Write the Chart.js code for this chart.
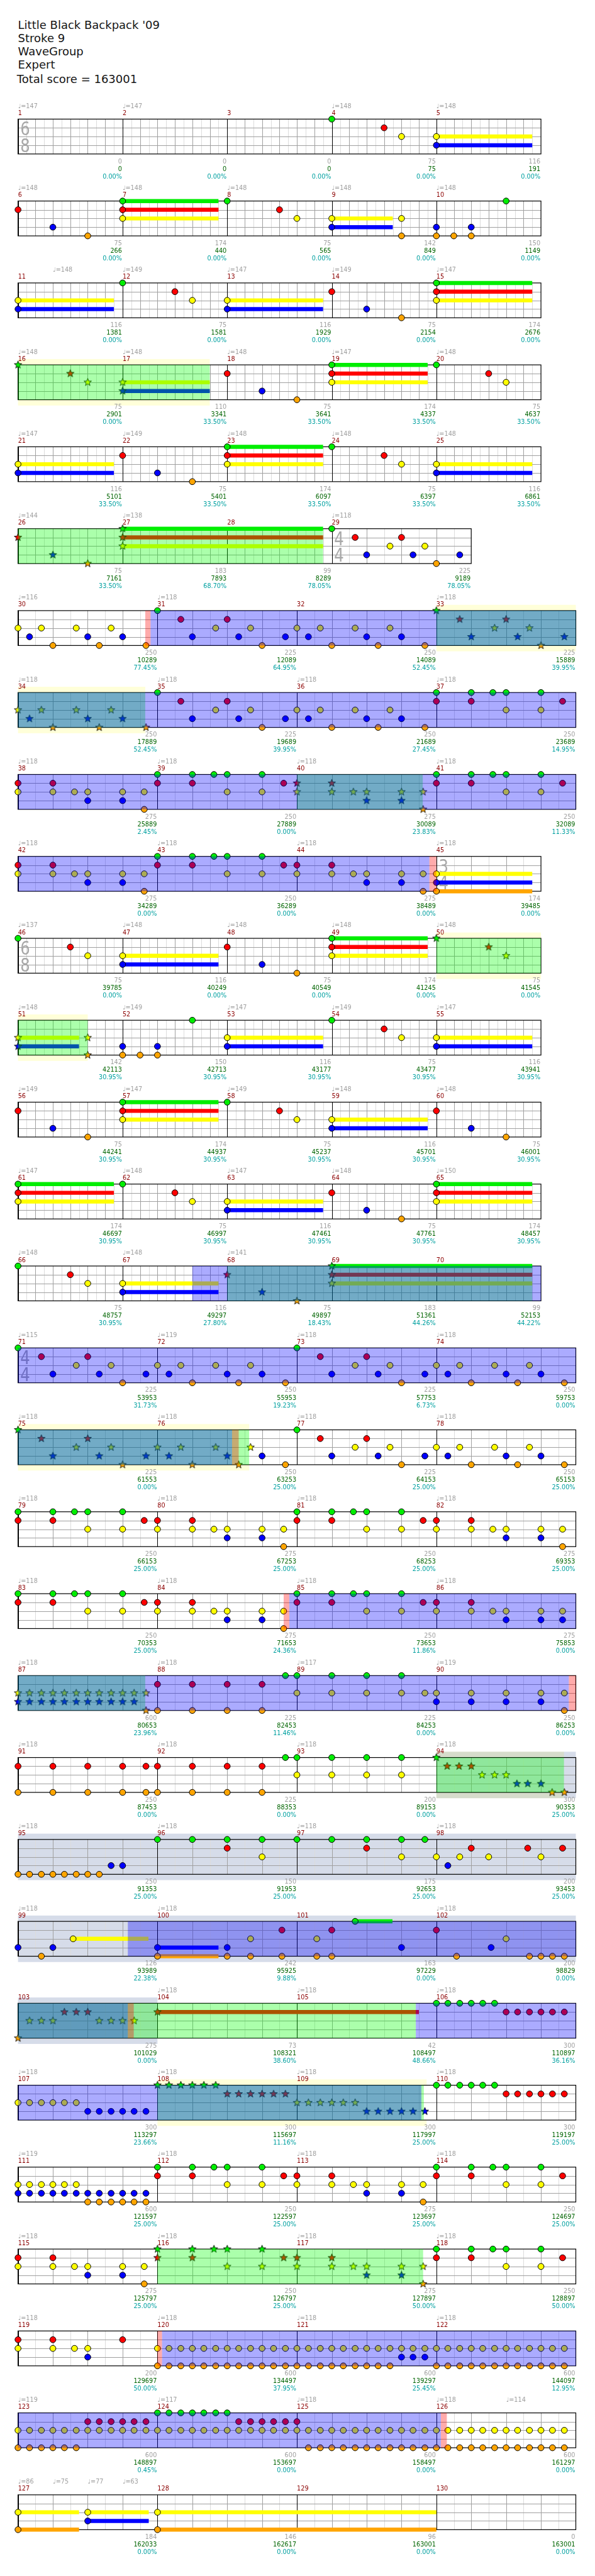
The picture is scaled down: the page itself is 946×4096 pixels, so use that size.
<!DOCTYPE html>
<html><head><meta charset="utf-8">
<script src="https://cdn.jsdelivr.net/npm/chart.js@4.4.1/dist/chart.umd.min.js"></script>
<style>
html,body{margin:0;padding:0;background:#fff;}
body{width:946px;height:4096px;position:relative;overflow:hidden;font-family:"DejaVu Sans",sans-serif;}
.tl{position:absolute;left:28.6px;font-size:18px;line-height:21px;color:#151515;white-space:nowrap;}
canvas{position:absolute;left:0;}
</style></head><body>
<div id="title"></div>
<script>
// ---------------- DATA ----------------
const titleLines = ["Little Black Backpack '09", "Stroke 9", "WaveGroup", "Expert", "Total score = 163001"];
const measureCount = 130;
// [first measure, numerator, denominator]
const timeSignatures = [[1,6,8],[29,4,4],[45,3,4],[46,6,8],[71,4,4]];
// [measure, beat offset, bpm]
const tempoMarks = [
[1,0,147],[2,0,147],[4,0,148],[5,0,148],
[6,0,148],[7,0,148],[8,0,148],[9,0,148],[10,0,148],
[11,1,148],[12,0,149],[13,0,147],[14,0,149],[15,0,147],
[16,0,148],[17,0,148],[18,0,148],[19,0,147],[20,0,148],
[21,0,147],[22,0,149],[23,0,148],[24,0,148],[25,0,148],
[26,0,144],[27,0,138],[29,0,118],
[30,0,116],[31,0,118],[33,0,118],
[34,0,118],[35,0,118],[36,0,118],[37,0,118],
[38,0,118],[39,0,118],[40,0,118],[41,0,118],
[42,0,118],[43,0,118],[44,0,118],[45,0,118],
[46,0,137],[47,0,148],[48,0,148],[49,0,148],[50,0,148],
[51,0,148],[52,0,149],[53,0,147],[54,0,149],[55,0,147],
[56,0,149],[57,0,147],[58,0,149],[59,0,148],[60,0,148],
[61,0,147],[62,0,148],[63,0,147],[64,0,148],[65,0,150],
[66,0,148],[67,0,148],[68,0,141],
[71,0,115],[72,0,119],[73,0,118],[74,0,118],
[75,0,118],[76,0,118],[77,0,118],[78,0,118],
[79,0,118],[80,0,118],[81,0,118],[82,0,118],
[83,0,118],[84,0,118],[85,0,118],[86,0,118],
[87,0,118],[88,0,118],[89,0,117],[90,0,119],
[91,0,118],[92,0,118],[93,0,118],[94,0,118],
[95,0,118],[96,0,118],[97,0,118],[98,0,118],
[99,0,118],[100,0,118],[102,0,118],
[104,0,118],[105,0,118],[106,0,118],
[107,0,118],[108,0,118],[109,0,118],[110,0,118],
[111,0,119],[112,0,118],[113,0,118],[114,0,118],
[115,0,118],[116,0,118],[117,0,118],[118,0,118],
[119,0,118],[120,0,118],[121,0,118],[122,0,118],
[123,0,119],[124,0,117],[125,0,118],[126,0,118],[126,2,114],
[127,0,86],[127,1,75],[127,2,77],[127,3,63]
];
// per-measure score gained (grey), running score (green), overdrive % (teal)
const measureGain = [
0,0,0,75,116, 75,174,75,142,150, 116,75,116,75,174, 75,110,75,174,75, 116,75,174,75,116,
75,183,99,225, 250,225,250,225, 250,225,250,250, 275,250,275,250, 275,250,275,174,
75,116,75,174,75, 142,150,116,75,116, 75,174,75,116,75, 174,75,116,75,174, 75,116,75,183,99,
225,250,225,250, 225,250,225,250, 250,275,250,275, 250,275,250,275, 600,225,225,250,
250,225,200,300, 250,150,175,200, 126,242,163,200, 275,73,42,300, 300,300,300,300,
600,250,275,250, 275,250,275,250, 200,600,600,600, 600,600,600,600, 184,146,96,0];
const runningScore = [
0,0,0,75,191, 266,440,565,849,1149, 1381,1581,1929,2154,2676, 2901,3341,3641,4337,4637,
5101,5401,6097,6397,6861, 7161,7893,8289,9189, 10289,12089,14089,15889, 17889,19689,21689,23689,
25889,27889,30089,32089, 34289,36289,38489,39485, 39785,40249,40549,41245,41545,
42113,42713,43177,43477,43941, 44241,44937,45237,45701,46001, 46697,46997,47461,47761,48457,
48757,49297,49897,51361,52153, 53953,55953,57753,59753, 61553,63253,64153,65153,
66153,67253,68253,69353, 70353,71653,73653,75853, 80653,82453,84253,86253,
87453,88353,89153,90353, 91353,91953,92653,93453, 93989,95925,97229,98829,
101029,108321,108497,110897, 113297,115697,117997,119197, 121597,122597,123697,124697,
125797,126797,127897,128897, 129697,134497,139297,144097, 148897,153697,158497,161297,
162033,162617,163001,163001];
const overdrivePct = [
0,0,0,0,0, 0,0,0,0,0, 0,0,0,0,0, 0,33.5,33.5,33.5,33.5, 33.5,33.5,33.5,33.5,33.5,
33.5,68.7,78.05,78.05, 77.45,64.95,52.45,39.95, 52.45,39.95,27.45,14.95, 2.45,0,23.83,11.33, 0,0,0,0,
0,0,0,0,0, 30.95,30.95,30.95,30.95,30.95, 30.95,30.95,30.95,30.95,30.95, 30.95,30.95,30.95,30.95,30.95,
30.95,27.8,18.43,44.26,44.22, 31.73,19.23,6.73,0, 0,25,25,25, 25,25,25,25, 25,24.36,11.86,0,
23.96,11.46,0,0, 0,0,0,25, 25,25,25,25, 22.38,9.88,0,0, 0,38.6,48.66,36.16, 23.66,11.16,25,25,
25,25,25,25, 25,25,50,50, 50,37.95,25.45,12.95, 0.45,0,0,0, 0,0,0,0];

// chords: [measure, beat, frets, sustain beats]
const chordsIntro = [
[4,0,"G"],[4,1.5,"R"],[4,2,"Y"],[5,0,"YB",2.75],
[6,0,"R"],[6,1,"B"],[6,2,"O"],[7,0,"GRY",2.75],[8,0,"G"],[8,1.5,"R"],[8,2,"Y"],[9,0,"YB",1.75],[9,2,"YO"],[10,0,"BO"],[10,0.5,"O"],[10,1,"BO"],[10,2,"G"],
[11,0,"YB",2.75],[12,0,"G"],[12,1.5,"R"],[12,2,"Y"],[13,0,"YB",2.75],[14,0,"R"],[14,1,"B"],[14,2,"O"],[15,0,"GRY",2.75],
[16,0,"G"],[16,1.5,"R"],[16,2,"Y"],[17,0,"YB",2.5],[18,0,"R"],[18,1,"B"],[18,2,"O"],[19,0,"GRY",2.75],[20,0,"G"],[20,1.5,"R"],[20,2,"Y"],
[21,0,"YB",2.75],[22,0,"R"],[22,1,"B"],[22,2,"O"],[23,0,"GRY",2.75],[24,0,"G"],[24,1.5,"R"],[24,2,"Y"],[25,0,"YB",2.75],
[26,0,"R"],[26,1,"B"],[26,2,"O"],[27,0,"GRY",5.75],
[29,0,"G"],[29,0.67,"R"],[29,1,"B"],[29,1.67,"Y"],[29,2,"R"],[29,2.33,"B"],[29,2.67,"Y"],[29,3,"O"],[29,3.67,"B"]
];
const chordsBridge = [
[30,0,"Y"],[30,0.33,"B"],[30,0.67,"Y"],[30,1,"O"],[30,1.67,"Y"],[30,2,"B"],[30,2.33,"O"],[30,2.67,"Y"],[30,3,"B"],[30,3.67,"O"],
[31,0,"G"],[31,0.67,"R"],[31,1,"B"],[31,1.67,"Y"],[31,2,"R"],[31,2.33,"B"],[31,2.67,"Y"],[31,3,"O"],[31,3.67,"B"],
[32,0,"Y"],[32,0.33,"B"],[32,0.67,"Y"],[32,1,"O"],[32,1.67,"Y"],[32,2,"B"],[32,2.33,"O"],[32,2.67,"Y"],[32,3,"B"],[32,3.67,"O"],
[33,0,"G"],[33,0.67,"R"],[33,1,"B"],[33,1.67,"Y"],[33,2,"R"],[33,2.33,"B"],[33,2.67,"Y"],[33,3,"O"],[33,3.67,"B"],
[34,0,"Y"],[34,0.33,"B"],[34,0.67,"Y"],[34,1,"O"],[34,1.67,"Y"],[34,2,"B"],[34,2.33,"O"],[34,2.67,"Y"],[34,3,"B"],[34,3.67,"O"],
[35,0,"G"],[35,0.67,"R"],[35,1,"B"],[35,1.67,"Y"],[35,2,"R"],[35,2.33,"B"],[35,2.67,"Y"],[35,3,"O"],[35,3.67,"B"],
[36,0,"Y"],[36,0.33,"B"],[36,0.67,"Y"],[36,1,"O"],[36,1.67,"Y"],[36,2,"B"],[36,2.33,"O"],[36,2.67,"Y"],[36,3,"B"],[36,3.67,"O"],
[37,0,"GR"],[37,1,"GR"],[37,1.62,"G"],[37,2,"GY"],[37,3,"GY"],[37,3.62,"R"],
[38,0,"RY"],[38,1,"RY"],[38,1.62,"Y"],[38,2,"YB"],[38,3,"YB"],[38,3.62,"YO"],
[39,0,"GR"],[39,1,"GR"],[39,1.62,"G"],[39,2,"GY"],[39,3,"GY"],[39,3.62,"R"],
[40,0,"RY"],[40,1,"RY"],[40,1.62,"Y"],[40,2,"YB"],[40,3,"YB"],[40,3.62,"YO"],
[41,0,"GR"],[41,1,"GR"],[41,1.62,"G"],[41,2,"GY"],[41,3,"GY"],[41,3.62,"R"],
[42,0,"RY"],[42,1,"RY"],[42,1.62,"Y"],[42,2,"YB"],[42,3,"YB"],[42,3.62,"YO"],
[43,0,"GR"],[43,1,"GR"],[43,1.62,"G"],[43,2,"GY"],[43,3,"GY"],[43,3.62,"R"],
[44,0,"RY"],[44,1,"RY"],[44,1.62,"Y"],[44,2,"YB"],[44,3,"YB"],[44,3.62,"YO"],
[45,0,"YBO",2.75]
];
const chordsVerse = [
[46,0,"G"],[46,1.5,"R"],[46,2,"Y"],[47,0,"YB",2.75],[48,0,"R"],[48,1,"B"],[48,2,"O"],[49,0,"GRY",2.75],[50,0,"G"],[50,1.5,"R"],[50,2,"Y"],
[51,0,"YB",1.75],[51,2,"YO"],[52,0,"BO"],[52,0.5,"O"],[52,1,"BO"],[52,2,"G"],[53,0,"YB",2.75],[54,0,"G"],[54,1.5,"R"],[54,2,"Y"],[55,0,"YB",2.75],
[56,0,"R"],[56,1,"B"],[56,2,"O"],[57,0,"GRY",2.75],[58,0,"G"],[58,1.5,"R"],[58,2,"Y"],[59,0,"YB",2.75],[60,0,"R"],[60,1,"B"],[60,2,"O"],
[61,0,"GRY",2.75],[62,0,"G"],[62,1.5,"R"],[62,2,"Y"],[63,0,"YB",2.75],[64,0,"R"],[64,1,"B"],[64,2,"O"],[65,0,"GRY",2.75],
[66,0,"G"],[66,1.5,"R"],[66,2,"Y"],[67,0,"YB",2.75],[68,0,"R"],[68,1,"B"],[68,2,"O"],[69,0,"GRY",5.75]
];
const chordsChorus = [
[71,0,"G"],[71,0.67,"R"],[71,1,"B"],[71,1.67,"Y"],[71,2,"R"],[71,2.33,"B"],[71,2.67,"Y"],[71,3,"O"],[71,3.67,"B"],
[72,0,"Y"],[72,0.33,"B"],[72,0.67,"Y"],[72,1,"O"],[72,1.67,"Y"],[72,2,"B"],[72,2.33,"O"],[72,2.67,"Y"],[72,3,"B"],[72,3.67,"O"],
[73,0,"G"],[73,0.67,"R"],[73,1,"B"],[73,1.67,"Y"],[73,2,"R"],[73,2.33,"B"],[73,2.67,"Y"],[73,3,"O"],[73,3.67,"B"],
[74,0,"Y"],[74,0.33,"B"],[74,0.67,"Y"],[74,1,"O"],[74,1.67,"Y"],[74,2,"B"],[74,2.33,"O"],[74,2.67,"Y"],[74,3,"B"],[74,3.67,"O"],
[75,0,"G"],[75,0.67,"R"],[75,1,"B"],[75,1.67,"Y"],[75,2,"R"],[75,2.33,"B"],[75,2.67,"Y"],[75,3,"O"],[75,3.67,"B"],
[76,0,"Y"],[76,0.33,"B"],[76,0.67,"Y"],[76,1,"O"],[76,1.67,"Y"],[76,2,"B"],[76,2.33,"O"],[76,2.67,"Y"],[76,3,"B"],[76,3.67,"O"],
[77,0,"G"],[77,0.67,"R"],[77,1,"B"],[77,1.67,"Y"],[77,2,"R"],[77,2.33,"B"],[77,2.67,"Y"],[77,3,"O"],[77,3.67,"B"],
[78,0,"Y"],[78,0.33,"B"],[78,0.67,"Y"],[78,1,"O"],[78,1.67,"Y"],[78,2,"B"],[78,2.33,"O"],[78,2.67,"Y"],[78,3,"B"],[78,3.67,"O"],
[79,0,"GR"],[79,1,"GR"],[79,1.62,"G"],[79,2,"GY"],[79,3,"GY"],[79,3.62,"R"],
[80,0,"RY"],[80,1,"RY"],[80,1.62,"Y"],[80,2,"YB"],[80,3,"YB"],[80,3.62,"YO"],
[81,0,"GR"],[81,1,"GR"],[81,1.62,"G"],[81,2,"GY"],[81,3,"GY"],[81,3.62,"R"],
[82,0,"RY"],[82,1,"RY"],[82,1.62,"Y"],[82,2,"YB"],[82,3,"YB"],[82,3.62,"YO"],
[83,0,"GR"],[83,1,"GR"],[83,1.62,"G"],[83,2,"GY"],[83,3,"GY"],[83,3.62,"R"],
[84,0,"RY"],[84,1,"RY"],[84,1.62,"Y"],[84,2,"YB"],[84,3,"YB"],[84,3.62,"YO"],
[85,0,"GR"],[85,1,"GR"],[85,1.62,"G"],[85,2,"GY"],[85,3,"GY"],[85,3.62,"R"],
[86,0,"RY"],[86,1,"RY"],[86,1.62,"Y"],[86,2,"YB"],[86,3,"YB"],[86,3.62,"YB"]
];
const chordsSolo = [
[87,0,"YB"],[87,0.33,"YB"],[87,0.67,"YB"],[87,1,"YB"],[87,1.33,"YB"],[87,1.67,"YB"],[87,2,"YB"],[87,2.33,"YB"],[87,2.67,"YB"],[87,3,"YB"],[87,3.33,"YB"],[87,3.67,"YO"],
[88,0,"RO"],[88,1,"RO"],[88,2,"RO"],[88,3,"RO"],[88,3.67,"G"],
[89,0,"GY"],[89,1,"GY"],[89,2,"GY"],[89,3,"GY"],[89,3.67,"Y"],
[90,0,"YB"],[90,1,"YB"],[90,2,"YB"],[90,3,"YB"],[90,3.67,"YO"],
[91,0,"RO"],[91,1,"RO"],[91,2,"RO"],[91,3,"RO"],[91,3.67,"RO"],
[92,0,"RO"],[92,1,"RO"],[92,2,"RO"],[92,3,"RO"],[92,3.67,"G"],
[93,0,"GY"],[93,1,"GY"],[93,2,"GY"],[93,3,"GY"],
[94,0,"G"],[94,0.31,"R"],[94,0.65,"R"],[94,1,"R"],[94,1.31,"Y"],[94,1.67,"Y"],[94,2,"Y"],[94,2.31,"B"],[94,2.62,"B"],[94,3,"B"],[94,3.32,"O"],[94,3.67,"O"],
[95,0,"O"],[95,0.33,"O"],[95,0.67,"O"],[95,1,"O"],[95,1.33,"O"],[95,1.67,"O"],[95,2,"O"],[95,2.33,"O"],[95,2.67,"B"],[95,3,"B"],
[96,0,"G"],[96,1,"G"],[96,2,"GR"],[96,3,"GY"],
[97,0,"G"],[97,1,"G"],[97,2,"GR"],[97,3,"GY"],[97,3.67,"G"],
[98,0,"Y"],[98,0.33,"B"],[98,0.67,"Y"],[98,1,"R"],[98,1.5,"Y"],[98,2.62,"R"],[98,3,"Y"],[98,3.62,"R"],
[99,0,"B"],[99,0.67,"O"],[99,1,"B"],[99,1.58,"Y",2.16],
[100,0,"BO",1.75],[100,2,"BO"],[100,2.67,"YO"],[100,3.57,"RO"],
[101,0.57,"YO"],[101,1,"RO"],[101,1.67,"G",1.07],[101,3,"B"],
[102,0,"R"],[102,0.58,"O"],[102,1.57,"B"],[102,2,"Y"],[102,2.67,"O"],[102,3,"O"],[102,3.33,"O"],[102,3.67,"O"],
[103,0,"O"],[103,0.33,"Y"],[103,0.67,"Y"],[103,1,"Y"],[103,1.33,"R"],[103,1.67,"R"],[103,2,"R"],[103,2.33,"Y"],[103,2.67,"Y"],[103,3,"Y"],[103,3.33,"Y"],
[104,0,"R",7.5]
];
const chordsOutro = [
[106,0,"G"],[106,0.33,"G"],[106,0.67,"G"],[106,1,"G"],[106,1.33,"G"],[106,1.67,"G"],[106,2,"R"],[106,2.33,"R"],[106,2.67,"R"],[106,3,"R"],[106,3.33,"R"],[106,3.67,"R"],
[107,0,"Y"],[107,0.33,"Y"],[107,0.67,"Y"],[107,1,"Y"],[107,1.33,"Y"],[107,1.67,"Y"],[107,2,"B"],[107,2.33,"B"],[107,2.67,"B"],[107,3,"B"],[107,3.33,"B"],[107,3.67,"B"],
[108,0,"G"],[108,0.33,"G"],[108,0.67,"G"],[108,1,"G"],[108,1.33,"G"],[108,1.67,"G"],[108,2,"R"],[108,2.33,"R"],[108,2.67,"R"],[108,3,"R"],[108,3.33,"R"],[108,3.67,"R"],
[109,0,"Y"],[109,0.33,"Y"],[109,0.67,"Y"],[109,1,"Y"],[109,1.33,"Y"],[109,1.67,"Y"],[109,2,"B"],[109,2.33,"B"],[109,2.67,"B"],[109,3,"B"],[109,3.33,"B"],[109,3.67,"B"],
[110,0,"G"],[110,0.33,"G"],[110,0.67,"G"],[110,1,"G"],[110,1.33,"G"],[110,1.67,"G"],[110,2,"R"],[110,2.33,"R"],[110,2.67,"R"],[110,3,"R"],[110,3.33,"R"],[110,3.67,"R"],
[111,0,"YB"],[111,0.33,"YB"],[111,0.67,"YB"],[111,1,"YB"],[111,1.33,"YB"],[111,1.67,"YB"],[111,2,"BO"],[111,2.33,"BO"],[111,2.67,"BO"],[111,3,"BO"],[111,3.33,"BO"],[111,3.67,"BO"],
[112,0,"GR"],[112,1,"GR"],[112,1.62,"G"],[112,2,"GY"],[112,3,"GY"],[112,3.62,"R"],
[113,0,"RY"],[113,1,"RY"],[113,1.62,"Y"],[113,2,"YB"],[113,3,"YB"],[113,3.62,"YO"],
[114,0,"GR"],[114,1,"GR"],[114,1.62,"G"],[114,2,"GY"],[114,3,"GY"],[114,3.62,"R"],
[115,0,"RY"],[115,1,"RY"],[115,1.62,"Y"],[115,2,"YB"],[115,3,"YB"],[115,3.62,"YO"],
[116,0,"GR"],[116,1,"GR"],[116,1.62,"G"],[116,2,"GY"],[116,3,"GY"],[116,3.62,"R"],
[117,0,"RY"],[117,1,"RY"],[117,1.62,"Y"],[117,2,"YB"],[117,3,"YB"],[117,3.62,"YO"],
[118,0,"GR"],[118,1,"GR"],[118,1.62,"G"],[118,2,"GY"],[118,3,"GY"],[118,3.62,"R"],
[119,0,"RY"],[119,1,"RY"],[119,1.62,"Y"],[119,2,"YB"],[119,3,"R"],
[120,0,"YO"],[120,0.33,"YO"],[120,0.67,"YO"],[120,1,"YO"],[120,1.33,"YO"],[120,1.67,"YO"],[120,2,"YO"],[120,2.33,"YO"],[120,2.67,"YO"],[120,3,"YO"],[120,3.33,"YO"],[120,3.67,"YO"],
[121,0,"YO"],[121,0.33,"YO"],[121,0.67,"YO"],[121,1,"YO"],[121,1.33,"YO"],[121,1.67,"YO"],[121,2,"YO"],[121,2.33,"YO"],[121,2.67,"YO"],[121,3,"YB"],[121,3.33,"YB"],[121,3.67,"YB"],
[122,0,"YO"],[122,0.33,"YO"],[122,0.67,"YO"],[122,1,"YO"],[122,1.33,"YO"],[122,1.67,"YO"],[122,2,"YO"],[122,2.33,"YO"],[122,2.67,"YO"],[122,3,"YO"],[122,3.33,"YO"],[122,3.67,"YO"],
[123,0,"YO"],[123,0.33,"YO"],[123,0.67,"YO"],[123,1,"YO"],[123,1.33,"YO"],[123,1.67,"YO"],[123,2,"RY"],[123,2.33,"RY"],[123,2.67,"RY"],[123,3,"RY"],[123,3.33,"RY"],[123,3.67,"RY"],
[124,0,"GY"],[124,0.33,"GY"],[124,0.67,"GY"],[124,1,"GY"],[124,1.33,"GY"],[124,1.67,"GY"],[124,2,"GY"],[124,2.33,"RY"],[124,2.67,"RY"],[124,3,"RY"],[124,3.33,"RY"],[124,3.67,"RY"],
[125,0,"RY"],[125,0.33,"YO"],[125,0.67,"YO"],[125,1,"YO"],[125,1.33,"YO"],[125,1.67,"YO"],[125,2,"YO"],[125,2.33,"YO"],[125,2.67,"YO"],[125,3,"YO"],[125,3.33,"YO"],[125,3.67,"YO"],
[126,0,"YO"],[126,0.33,"YO"],[126,0.67,"YO"],[126,1,"YO"],[126,1.33,"YO"],[126,1.67,"YO"],[126,2,"YO"],[126,2.33,"YO"],[126,2.67,"YO"],[126,3,"YO"],[126,3.33,"YO"],[126,3.67,"YO"],
[127,0,"YO",1.75],[127,2,"YB",1.75],[128,0,"YO",8]
];
// spans: [measure0, beat0, measure1, beat1]
const starSpans = [[16,0,17,0],[26,0,27,0],[33,0,34,3.67],[40,0,40,3.62],[50,0,51,2],[68,0,69,0],[75,0,76,2.67],[87,0,87,3.67],[94,0,94,3.67],[103,0,104,0],[108,0,109,3.67],[116,0,117,3.62]];
const phraseBands = [[16,0,17,2.5],[33,0,34,3.65],[50,0,51,2],[75,0,76,2.63],[94,0,94,3.66],[108,0,109,3.72]];
const soloBands = [[94,0,104,0]];
const greenZones = [[16,0,17,2.5],[26,0,28,2.75],[33,0,34,3.65],[40,0,40,3.61],[50,0,51,2],[68,0,70,2.75],[75,0,76,2.63],[87,0,87,3.65],[94,0,94,3.66],[103,0,105,3.41],[108,0,109,3.64],[116,0,117,3.62]];
const blueZones = [[30,3.8,44,3.8],[67,2,76,2.14],[84,3.78,90,3.8],[99,3.15,103,3.15],[105,3.41,109,3.57],[120,0.13,126,0.13]];
const redZones = [[30,3.65,30,3.8],[44,3.8,45,0],[76,2.14,76,2.33],[84,3.62,84,3.78],[90,3.8,91,0],[103,3.15,103,3.32],[120,0,120,0.13],[126,0.13,126,0.3]];

// ---------------- LAYOUT ----------------
const S = 946/1024;
const ROW_CAP = 16;
const LANE = ['#00ee00','#ff0000','#ffff00','#0000ff','#ffa500'];
const FONT = '"DejaVu Sans", sans-serif';

// title
const tdiv = document.getElementById('title');
const baselines = [49,72,95,118,142];
titleLines.forEach((t,i)=>{
  const d=document.createElement('div'); d.className='tl'; d.textContent=t;
  d.style.top=(baselines[i]*S-16.6)+'px';
  if(i===4) d.style.left=(29*S)+'px';
  tdiv.appendChild(d);
});

const meas=[]; let gAcc=0;
for(let m=1;m<=measureCount;m++){
  const sig=timeSignatures.filter(t=>t[0]<=m).pop();
  const beats=sig[1]*4/sig[2];
  meas[m]={m,beats,den:sig[2],g:gAcc,sig:sig[0]===m?sig:null};
  gAcc+=beats;
}
const rows=[]; let cur=null;
for(let m=1;m<=measureCount;m++){
  const M=meas[m];
  if(!cur||cur.beats+M.beats>ROW_CAP+1e-9){cur={ms:[],beats:0,g:M.g};rows.push(cur);}
  M.row=rows.length-1; M.x=cur.beats; cur.ms.push(m); cur.beats+=M.beats;
}
function gpos(m,b){return meas[m].g+b;}
function segs(list){
  const out=rows.map(()=>[]);
  for(const [m0,b0,m1,b1] of list){
    const g0=gpos(m0,b0), g1=gpos(m1,b1);
    rows.forEach((r,i)=>{const lo=Math.max(g0,r.g),hi=Math.min(g1,r.g+r.beats); if(hi>lo+1e-9) out[i].push([lo-r.g,hi-r.g]);});
  }
  return out;
}
const phraseSegs=segs(phraseBands), soloSegs=segs(soloBands), greenSegs=segs(greenZones), blueSegs=segs(blueZones), redSegs=segs(redZones);

const rowData=rows.map(()=>({pts:[[],[],[],[],[]],stars:[[],[],[],[],[]],sus:[[],[],[],[],[]]}));
const allChords=[...chordsIntro,...chordsBridge,...chordsVerse,...chordsChorus,...chordsSolo,...chordsOutro];
for(const [m,b,frets,len] of allChords){
  const M=meas[m], rd=rowData[M.row], x=M.x+b, g=gpos(m,b);
  const star=starSpans.some(([m0,b0,m1,b1])=>g>=gpos(m0,b0)-1e-6&&g<=gpos(m1,b1)+1e-6);
  for(const ch of frets){
    const l='GRYBO'.indexOf(ch);
    (star?rd.stars:rd.pts)[l].push({x,y:l});
    if(len) rd.sus[l].push({x,y:l},{x:x+len,y:l},{x:x+len,y:null});
  }
}

function starImage(color){
  const R=6.8*S, r=R*0.42, size=Math.ceil(2*R+3)|1;
  const c=document.createElement('canvas'); c.width=c.height=size;
  const g=c.getContext('2d'); g.translate(size/2,size/2);
  g.beginPath();
  for(let i=0;i<10;i++){const a=-Math.PI/2+i*Math.PI/5, rr=i%2?r:R; g.lineTo(rr*Math.cos(a),rr*Math.sin(a));}
  g.closePath(); g.fillStyle=color; g.fill(); g.lineWidth=0.9; g.strokeStyle='#000'; g.stroke();
  return c;
}
const STAR_IMG=LANE.map(starImage);

function painter(ri){
  const row=rows[ri];
  return {
    id:'rowPainter',
    beforeDatasetsDraw(chart){
      const ctx=chart.ctx, xs=chart.scales.x, ys=chart.scales.y;
      const X=v=>xs.getPixelForValue(v);
      const yT=ys.getPixelForValue(0), yB=ys.getPixelForValue(4);
      const xL=X(0), xR=X(row.beats), ext=10*S;
      ctx.save();
      for(const [a,b] of phraseSegs[ri]){ctx.fillStyle='#ffffd9';ctx.fillRect(X(a),yT-ext,X(b)-X(a),yB-yT+2*ext);}
      ctx.fillStyle='#ffffff'; ctx.fillRect(xL,yT,xR-xL,yB-yT);
      for(const [a,b] of soloSegs[ri]){ctx.fillStyle='rgba(60,90,150,0.21)';ctx.fillRect(X(a),yT-ext,X(b)-X(a),yB-yT+2*ext);}
      // grid
      ctx.lineWidth=1;
      for(const pass of [0,1]){
        for(const m of row.ms){
          const M=meas[m], sub=M.den===8?0.25:0.5, unit=sub*2;
          for(let t=sub;t<M.beats-1e-6;t+=sub){
            const isUnit=Math.abs(t/unit-Math.round(t/unit))<1e-6;
            if((pass===1)!==isUnit) continue;
            const px=Math.round(X(M.x+t))+0.5;
            ctx.strokeStyle=isUnit?'#a0a0a0':'#dcdcdc';
            ctx.beginPath();ctx.moveTo(px,yT);ctx.lineTo(px,yB);ctx.stroke();
          }
        }
      }
      ctx.strokeStyle='#a0a0a0';
      for(let l=1;l<4;l++){const py=Math.round(ys.getPixelForValue(l))+0.5;ctx.beginPath();ctx.moveTo(xL,py);ctx.lineTo(xR,py);ctx.stroke();}
      // time signatures
      for(const m of row.ms){
        const M=meas[m]; if(!M.sig) continue;
        ctx.fillStyle='#a8a8a8'; ctx.font=(33*S)+'px '+FONT; ctx.textAlign='left'; ctx.textBaseline='alphabetic';
        const x0=X(M.x)+4*S;
        [[String(M.sig[1]),28],[String(M.sig[2]),57]].forEach(([d,dy])=>{
          ctx.save(); ctx.translate(x0,yT+dy*S); ctx.scale(0.8,1); ctx.fillText(d,0,0); ctx.restore();
        });
      }
      // measure lines
      ctx.strokeStyle='#000';
      for(const m of row.ms){const px=Math.round(X(meas[m].x))+0.5;ctx.beginPath();ctx.moveTo(px,yT);ctx.lineTo(px,yB);ctx.stroke();}
      ctx.lineWidth=1.2; ctx.strokeRect(xL,yT,xR-xL,yB-yT);
      ctx.restore();
    },
    afterDatasetsDraw(chart){
      const ctx=chart.ctx, xs=chart.scales.x, ys=chart.scales.y;
      const X=v=>xs.getPixelForValue(v);
      const yT=ys.getPixelForValue(0), yB=ys.getPixelForValue(4);
      ctx.save();
      const layers=[[greenSegs,'rgba(0,255,0,0.33)'],[blueSegs,'rgba(0,0,255,0.33)'],[redSegs,'rgba(255,0,0,0.33)']];
      for(const [sg,col] of layers){for(const [a,b] of sg[ri]){ctx.fillStyle=col;ctx.fillRect(X(a),yT,X(b)-X(a),yB-yT);}}
      ctx.restore();
    },
    afterDraw(chart){
      const ctx=chart.ctx, xs=chart.scales.x, ys=chart.scales.y;
      const X=v=>xs.getPixelForValue(v);
      const yT=ys.getPixelForValue(0), yB=ys.getPixelForValue(4);
      ctx.save();
      ctx.font=(10.5*S)+'px '+FONT; ctx.textBaseline='alphabetic';
      for(const [m,b,bpm] of tempoMarks){
        if(meas[m].row!==ri) continue;
        ctx.fillStyle='#a0a0a0'; ctx.textAlign='left';
        ctx.fillText('\u2669='+bpm, X(meas[m].x+b), yT-19*S);
      }
      for(const m of row.ms){
        const M=meas[m];
        ctx.textAlign='left'; ctx.fillStyle='#8b0000';
        ctx.fillText(String(m), X(M.x), yT-7*S);
        const xe=X(M.x+M.beats)-1;
        ctx.textAlign='right';
        ctx.fillStyle='#a0a0a0'; ctx.fillText(String(measureGain[m-1]), xe, yB+16*S);
        ctx.fillStyle='#006400'; ctx.fillText(String(runningScore[m-1]), xe, yB+29*S);
        ctx.fillStyle='#00a0a0'; ctx.fillText(overdrivePct[m-1].toFixed(2)+'%', xe, yB+42*S);
      }
      ctx.restore();
    }
  };
}

const H=Math.round(150*S);
const padL=31*S, padR=946-padL-ROW_CAP*60*S;
rows.forEach((row,ri)=>{
  const topFull=205+141*ri;
  const cTop=Math.floor((topFull-40)*S);
  const padT=topFull*S-cTop;
  const padB=H-padT-60*S;
  const cv=document.createElement('canvas');
  cv.width=946; cv.height=H; cv.style.top=cTop+'px'; cv.style.width='946px'; cv.style.height=H+'px';
  document.body.appendChild(cv);
  const rd=rowData[ri], ds=[];
  for(let l=0;l<5;l++) if(rd.sus[l].length) ds.push({type:'line',data:rd.sus[l],borderColor:LANE[l],borderWidth:7*S,pointRadius:0,borderCapStyle:'butt',fill:false,tension:0,spanGaps:false,order:3,clip:false});
  for(let l=0;l<5;l++) if(rd.pts[l].length) ds.push({type:'scatter',data:rd.pts[l],pointStyle:'circle',pointRadius:5.2*S,pointBackgroundColor:LANE[l],backgroundColor:LANE[l],pointBorderColor:'#000',borderColor:'#000',pointBorderWidth:1,borderWidth:1,order:2,clip:false});
  for(let l=0;l<5;l++) if(rd.stars[l].length) ds.push({type:'scatter',data:rd.stars[l],pointStyle:STAR_IMG[l],pointRadius:6*S,order:1,clip:false});
  new Chart(cv,{
    type:'scatter',
    data:{datasets:ds},
    options:{
      responsive:false,animation:false,devicePixelRatio:1,events:[],
      layout:{padding:{left:padL,right:padR,top:padT,bottom:padB}},
      scales:{x:{type:'linear',min:0,max:ROW_CAP,display:false},y:{type:'linear',min:0,max:4,reverse:true,display:false}},
      plugins:{legend:{display:false},tooltip:{enabled:false},title:{display:false}}
    },
    plugins:[painter(ri)]
  });
});
</script>
</body></html>
